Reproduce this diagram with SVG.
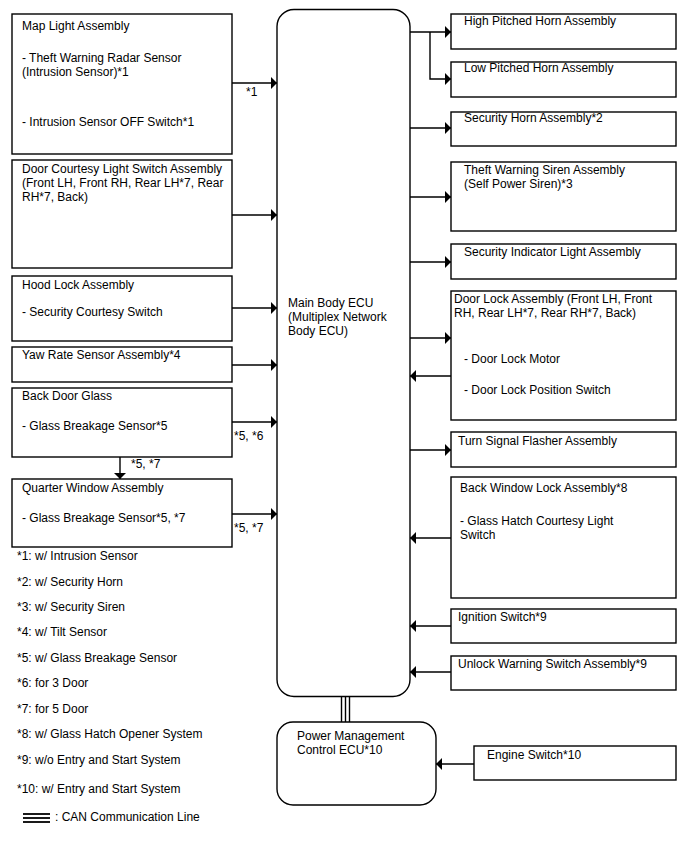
<svg xmlns="http://www.w3.org/2000/svg" width="688" height="852" viewBox="0 0 688 852">
<defs>
<marker id="ah" viewBox="0 0 6 12" markerWidth="6" markerHeight="12" refX="6" refY="6" orient="auto" markerUnits="userSpaceOnUse">
<path d="M0,0 L6,6 L0,12 z" fill="#000"/>
</marker>
<style>
.box{fill:#fff;stroke:#000;stroke-width:1.4}
.ecu{fill:#fff;stroke:#000;stroke-width:1.4}
text{font-family:"Liberation Sans",Arial,sans-serif;font-size:12px;fill:#000}
.c{fill:none;stroke:#000;stroke-width:1.4}
.a{fill:none;stroke:#000;stroke-width:1.4;marker-end:url(#ah)}
.can{stroke:#000;stroke-width:1.4}
.canl{stroke:#000;stroke-width:1.8}
</style>
</defs>
<rect width="688" height="852" fill="#fff"/>

<g id="main-ecu">
<rect class="ecu" x="277" y="9.5" width="133" height="687" rx="17"/>
<text x="288" y="307">Main Body ECU</text>
<text x="288" y="321">(Multiplex Network</text>
<text x="288" y="335">Body ECU)</text>
</g>

<g id="map-light">
<rect class="box" x="12" y="14" width="220" height="140"/>
<text x="22" y="30">Map Light Assembly</text>
<text x="22" y="62">- Theft Warning Radar Sensor</text>
<text x="22" y="76">(Intrusion Sensor)*1</text>
<text x="22" y="126">- Intrusion Sensor OFF Switch*1</text>
</g>

<g id="door-courtesy">
<rect class="box" x="12" y="160" width="220" height="108"/>
<text x="22" y="173">Door Courtesy Light Switch Assembly</text>
<text x="22" y="187">(Front LH, Front RH, Rear LH*7, Rear</text>
<text x="22" y="201">RH*7, Back)</text>
</g>

<g id="hood-lock">
<rect class="box" x="12" y="276" width="220" height="65"/>
<text x="22" y="289">Hood Lock Assembly</text>
<text x="22" y="316">- Security Courtesy Switch</text>
</g>

<g id="yaw-rate">
<rect class="box" x="12" y="347" width="220" height="35"/>
<text x="22" y="359">Yaw Rate Sensor Assembly*4</text>
</g>

<g id="back-door-glass">
<rect class="box" x="12" y="388" width="220" height="69"/>
<text x="22" y="400">Back Door Glass</text>
<text x="22" y="430">- Glass Breakage Sensor*5</text>
</g>

<g id="quarter-window">
<rect class="box" x="12" y="479" width="220" height="68"/>
<text x="22" y="492">Quarter Window Assembly</text>
<text x="22" y="522">- Glass Breakage Sensor*5, *7</text>
</g>

<g id="high-horn">
<rect class="box" x="451" y="14" width="225" height="35"/>
<text x="464" y="25">High Pitched Horn Assembly</text>
</g>
<g id="low-horn">
<rect class="box" x="451" y="62" width="225" height="35"/>
<text x="464" y="72">Low Pitched Horn Assembly</text>
</g>
<g id="security-horn">
<rect class="box" x="451" y="112" width="225" height="34"/>
<text x="464" y="122">Security Horn Assembly*2</text>
</g>
<g id="siren">
<rect class="box" x="451" y="162" width="225" height="69"/>
<text x="464" y="174">Theft Warning Siren Assembly</text>
<text x="464" y="188">(Self Power Siren)*3</text>
</g>
<g id="security-indicator">
<rect class="box" x="451" y="244" width="225" height="35"/>
<text x="464" y="256">Security Indicator Light Assembly</text>
</g>
<g id="door-lock">
<rect class="box" x="451" y="291" width="225" height="129"/>
<text x="454" y="303">Door Lock Assembly (Front LH, Front</text>
<text x="454" y="317">RH, Rear LH*7, Rear RH*7, Back)</text>
<text x="464" y="363">- Door Lock Motor</text>
<text x="464" y="394">- Door Lock Position Switch</text>
</g>
<g id="turn-signal">
<rect class="box" x="451" y="432" width="225" height="35"/>
<text x="458" y="445">Turn Signal Flasher Assembly</text>
</g>
<g id="back-window-lock">
<rect class="box" x="451" y="477" width="225" height="121"/>
<text x="460" y="492">Back Window Lock Assembly*8</text>
<text x="460" y="525">- Glass Hatch Courtesy Light</text>
<text x="460" y="539">Switch</text>
</g>
<g id="ignition">
<rect class="box" x="451" y="609" width="225" height="34"/>
<text x="458" y="621">Ignition Switch*9</text>
</g>
<g id="unlock-warning">
<rect class="box" x="451" y="656" width="225" height="34"/>
<text x="458" y="668">Unlock Warning Switch Assembly*9</text>
</g>

<g id="power-mgmt-ecu">
<rect class="ecu" x="277" y="722" width="159" height="83" rx="16"/>
<text x="297" y="740">Power Management</text>
<text x="297" y="754">Control ECU*10</text>
</g>
<g id="engine-switch">
<rect class="box" x="474" y="746" width="202" height="34"/>
<text x="487" y="759">Engine Switch*10</text>
</g>

<g id="connectors">
<line class="a" x1="232" y1="83" x2="277" y2="83"/>
<line class="a" x1="232" y1="215" x2="277" y2="215"/>
<line class="a" x1="232" y1="308" x2="277" y2="308"/>
<line class="a" x1="232" y1="365" x2="277" y2="365"/>
<line class="a" x1="232" y1="422" x2="277" y2="422"/>
<line class="a" x1="232" y1="514" x2="277" y2="514"/>
<line class="a" x1="120" y1="457" x2="120" y2="479"/>
<line class="a" x1="410" y1="32" x2="451" y2="32"/>
<polyline class="a" points="430,32 430,79 451,79"/>
<line class="a" x1="410" y1="128" x2="451" y2="128"/>
<line class="a" x1="410" y1="197" x2="451" y2="197"/>
<line class="a" x1="410" y1="262" x2="451" y2="262"/>
<line class="a" x1="410" y1="338" x2="451" y2="338"/>
<line class="a" x1="451" y1="376" x2="410" y2="376"/>
<line class="a" x1="410" y1="450" x2="451" y2="450"/>
<line class="a" x1="451" y1="538" x2="410" y2="538"/>
<line class="a" x1="451" y1="626" x2="410" y2="626"/>
<line class="a" x1="451" y1="672" x2="410" y2="672"/>
<line class="a" x1="474" y1="764" x2="436" y2="764"/>
<line class="can" x1="341.5" y1="696" x2="341.5" y2="722"/>
<line class="can" x1="345.5" y1="696" x2="345.5" y2="722"/>
<line class="can" x1="349.5" y1="696" x2="349.5" y2="722"/>
<text x="246" y="96">*1</text>
<text x="234" y="440">*5, *6</text>
<text x="131" y="468">*5, *7</text>
<text x="234" y="532">*5, *7</text>
</g>

<g id="legend">
<text x="17" y="560">*1: w/ Intrusion Sensor</text>
<text x="17" y="586">*2: w/ Security Horn</text>
<text x="17" y="611">*3: w/ Security Siren</text>
<text x="17" y="636">*4: w/ Tilt Sensor</text>
<text x="17" y="662">*5: w/ Glass Breakage Sensor</text>
<text x="17" y="687">*6: for 3 Door</text>
<text x="17" y="713">*7: for 5 Door</text>
<text x="17" y="738">*8: w/ Glass Hatch Opener System</text>
<text x="17" y="764">*9: w/o Entry and Start System</text>
<text x="17" y="793">*10: w/ Entry and Start System</text>
<line class="canl" x1="23" y1="814" x2="50" y2="814"/>
<line class="canl" x1="23" y1="818" x2="50" y2="818"/>
<line class="canl" x1="23" y1="822" x2="50" y2="822"/>
<text x="55" y="821">: CAN Communication Line</text>
</g>
</svg>
